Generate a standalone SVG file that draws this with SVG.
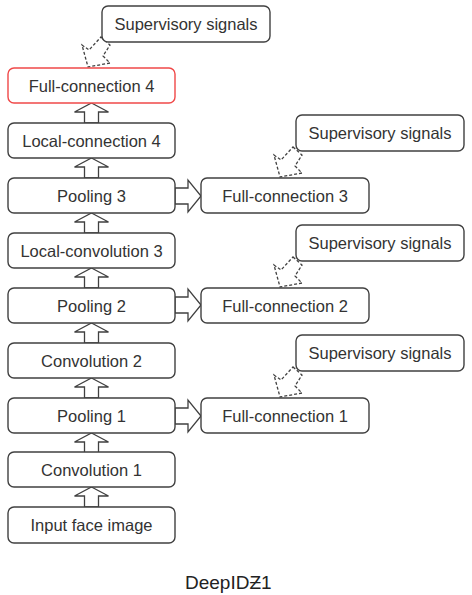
<svg xmlns="http://www.w3.org/2000/svg" width="472" height="595" viewBox="0 0 472 595">
<defs>
<style>
.box{fill:#fff;stroke:#404040;stroke-width:1.4}
.red{fill:#fff;stroke:#f04848;stroke-width:1.4}
.t{font-family:"Liberation Sans",Arial,sans-serif;font-size:16.5px;fill:#333;text-anchor:middle;dominant-baseline:central}
.arr{fill:#fff;stroke:#404040;stroke-width:1.3;stroke-linejoin:miter}
.dash{fill:#fff;stroke:#404040;stroke-width:1.3;stroke-dasharray:3,2}
</style>
<path id="up" d="M0,0 L17,9 L7,9 L7,20 L-7,20 L-7,9 L-17,9 Z"/>
<path id="right" d="M0,0 L13,0 L13,-8 L26,8 L13,24 L13,16 L0,16 Z"/>
<path id="sup" d="M0,0 L9,8 L2,19 L9,26 L-13,30 L-19,8 L-12,13 Z"/>
</defs>
<g id="connectors">
<use href="#up" x="91.5" y="103" class="arr"/>
<use href="#up" x="91.5" y="158" class="arr"/>
<use href="#up" x="91.5" y="213" class="arr"/>
<use href="#up" x="91.5" y="268" class="arr"/>
<use href="#up" x="91.5" y="323" class="arr"/>
<use href="#up" x="91.5" y="378" class="arr"/>
<use href="#up" x="91.5" y="433" class="arr"/>
<use href="#up" x="91.5" y="487" class="arr"/>
<use href="#right" x="175" y="188" class="arr"/>
<use href="#right" x="175" y="297" class="arr"/>
<use href="#right" x="175" y="408" class="arr"/>
<use href="#sup" x="101" y="37" class="dash"/>
<use href="#sup" x="293" y="147" class="dash"/>
<use href="#sup" x="293" y="257" class="dash"/>
<use href="#sup" x="293" y="367" class="dash"/>
</g>
<g id="sup1"><rect class="box" x="102" y="6" width="168" height="36" rx="6"/><text class="t" x="186" y="24">Supervisory signals</text></g>
<g id="fc4"><rect class="red" x="8" y="68" width="167" height="35" rx="6"/><text class="t" x="91.5" y="85.5">Full-connection 4</text></g>
<g id="lc4"><rect class="box" x="8" y="123" width="167" height="35" rx="6"/><text class="t" x="91.5" y="140.5">Local-connection 4</text></g>
<g id="p3"><rect class="box" x="8" y="178" width="167" height="35" rx="6"/><text class="t" x="91.5" y="195.5">Pooling 3</text></g>
<g id="lconv3"><rect class="box" x="8" y="233" width="167" height="35" rx="6"/><text class="t" x="91.5" y="250.5">Local-convolution 3</text></g>
<g id="p2"><rect class="box" x="8" y="288" width="167" height="35" rx="6"/><text class="t" x="91.5" y="305.5">Pooling 2</text></g>
<g id="conv2"><rect class="box" x="8" y="343" width="167" height="35" rx="6"/><text class="t" x="91.5" y="360.5">Convolution 2</text></g>
<g id="p1"><rect class="box" x="8" y="398" width="167" height="35" rx="6"/><text class="t" x="91.5" y="415.5">Pooling 1</text></g>
<g id="conv1"><rect class="box" x="8" y="452" width="167" height="35" rx="6"/><text class="t" x="91.5" y="469.5">Convolution 1</text></g>
<g id="input"><rect class="box" x="8" y="507" width="167" height="36" rx="6"/><text class="t" x="91.5" y="525">Input face image</text></g>
<g id="fc3"><rect class="box" x="201" y="178" width="168" height="35" rx="6"/><text class="t" x="285" y="195.5">Full-connection 3</text></g>
<g id="fc2"><rect class="box" x="201" y="288" width="168" height="35" rx="6"/><text class="t" x="285" y="305.5">Full-connection 2</text></g>
<g id="fc1"><rect class="box" x="201" y="398" width="168" height="35" rx="6"/><text class="t" x="285" y="415.5">Full-connection 1</text></g>
<g id="sup2"><rect class="box" x="296" y="115" width="168" height="36" rx="6"/><text class="t" x="380" y="133">Supervisory signals</text></g>
<g id="sup3"><rect class="box" x="296" y="225" width="168" height="36" rx="6"/><text class="t" x="380" y="243">Supervisory signals</text></g>
<g id="sup4"><rect class="box" x="296" y="335" width="168" height="36" rx="6"/><text class="t" x="380" y="353">Supervisory signals</text></g>
<text x="185" y="589" font-family="'Liberation Sans',Arial,sans-serif" font-size="19" fill="#222">DeepIDƵ1</text>
</svg>
